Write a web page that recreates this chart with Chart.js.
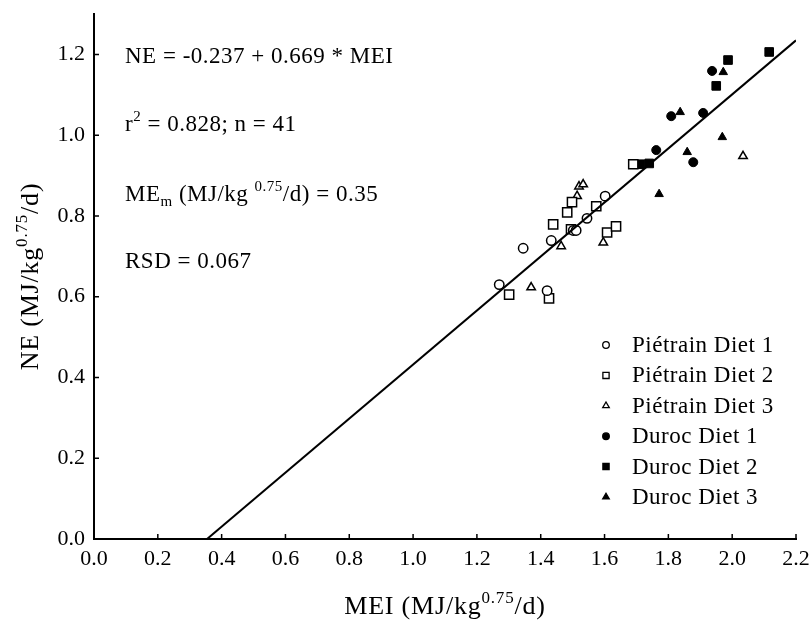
<!DOCTYPE html>
<html>
<head>
<meta charset="utf-8">
<script src="https://cdn.jsdelivr.net/npm/chart.js@4.4.1/dist/chart.umd.min.js"></script>
<style>
  html, body { margin: 0; padding: 0; background: #fff; }
  #wrap { width: 810px; height: 624px; }
</style>
</head>
<body>
<div id="wrap"><canvas id="chart" width="810" height="624"></canvas></div>
<script>
// values (MEI on x, NE on y, both MJ/kg^0.75/d)
const seriesNames = ['Piétrain Diet 1', 'Piétrain Diet 2', 'Piétrain Diet 3', 'Duroc Diet 1', 'Duroc Diet 2', 'Duroc Diet 3'];

const pie1X = [1.270, 1.420, 1.345, 1.433, 1.502, 1.511, 1.545, 1.602];
const pie1Y = [0.630, 0.615, 0.720, 0.739, 0.764, 0.764, 0.794, 0.849];

const pie2X = [1.301, 1.426, 1.439, 1.483, 1.498, 1.495, 1.574, 1.608, 1.636, 1.690];
const pie2Y = [0.605, 0.596, 0.779, 0.809, 0.834, 0.767, 0.824, 0.759, 0.774, 0.928];

const pie3X = [1.370, 1.464, 1.514, 1.520, 1.533, 1.596, 2.034];
const pie3Y = [0.623, 0.725, 0.849, 0.873, 0.878, 0.734, 0.948];

const dur1X = [1.762, 1.809, 1.878, 1.909, 1.937];
const dur1Y = [0.963, 1.047, 0.933, 1.055, 1.159];

const dur2X = [1.712, 1.740, 1.950, 1.987, 2.116];
const dur2Y = [0.928, 0.930, 1.122, 1.186, 1.206];

const dur3X = [1.771, 1.837, 1.859, 1.972, 1.969];
const dur3Y = [0.854, 1.057, 0.958, 1.156, 0.995];

// regression printed on the figure
const fitIntercept = -0.237;
const fitSlope = 0.669;

const xTicks = [0, 0.2, 0.4, 0.6, 0.8, 1.0, 1.2, 1.4, 1.6, 1.8, 2.0, 2.2];
const yTicks = [0, 0.2, 0.4, 0.6, 0.8, 1.0, 1.2];
const xMin = 0, xMax = 2.2, yMin = 0, yMax = 1.3;

const serif = '"Liberation Serif", "Times New Roman", serif';

function pairs(xs, ys) {
  return xs.map((x, i) => ({ x: x, y: ys[i] }));
}

// marker look per series: [pointStyle, filled, radius on plot, radius in legend]
const markers = [
  ['circle', false, 4.7, 3.3],
  ['rect', false, 6.5, 4.4],
  ['triangle', false, 4.9, 3.8],
  ['circle', true, 4.5, 3.3],
  ['rect', true, 6.1, 4.4],
  ['triangle', true, 4.9, 3.8]
];

const allX = [pie1X, pie2X, pie3X, dur1X, dur2X, dur3X];
const allY = [pie1Y, pie2Y, pie3Y, dur1Y, dur2Y, dur3Y];

let datasets = seriesNames.map((name, i) => ({
  label: name,
  data: pairs(allX[i], allY[i]),
  pointStyle: markers[i][0],
  pointRadius: markers[i][2],
  pointBackgroundColor: markers[i][1] ? '#000' : '#fff',
  pointBorderColor: '#000',
  pointBorderWidth: markers[i][1] ? 1 : 1.5,
  showLine: false
}));

// fitted line from where it crosses NE = 0 up to the end of the x axis
const fitStart = -fitIntercept / fitSlope;
datasets.unshift({
  label: 'fit',
  data: [
    { x: fitStart, y: fitIntercept + fitSlope * fitStart },
    { x: xMax, y: fitIntercept + fitSlope * xMax }
  ],
  showLine: true,
  borderColor: '#000',
  borderWidth: 2,
  pointRadius: 0
});

// draw text pieces with super/subscripts
function drawParts(ctx, parts, x, y, size, align) {
  const small = Math.round(size * 0.66);
  let total = 0;
  parts.forEach(p => {
    ctx.font = (p[1] ? small : size) + 'px ' + serif;
    total += ctx.measureText(p[0]).width;
  });
  let cx = align === 'center' ? x - total / 2 : x;
  parts.forEach(p => {
    ctx.font = (p[1] ? small : size) + 'px ' + serif;
    let dy = 0;
    if (p[1] === 'sup') dy = -size * 0.42;
    if (p[1] === 'sub') dy = size * 0.22;
    ctx.fillText(p[0], cx, y + dy);
    cx += ctx.measureText(p[0]).width;
  });
}

const extras = {
  id: 'extras',
  afterDraw(chart) {
    const ctx = chart.ctx;
    const xs = chart.scales.x, ys = chart.scales.y;
    const area = chart.chartArea;
    ctx.save();
    ctx.strokeStyle = '#000';
    ctx.lineWidth = 1.5;
    // inward tick marks
    ctx.beginPath();
    xTicks.forEach(v => {
      const px = xs.getPixelForValue(v);
      ctx.moveTo(px, area.bottom);
      ctx.lineTo(px, area.bottom - 5);
    });
    yTicks.forEach(v => {
      const py = ys.getPixelForValue(v);
      ctx.moveTo(area.left, py);
      ctx.lineTo(area.left + 5, py);
    });
    ctx.stroke();

    ctx.fillStyle = '#000';
    ctx.textAlign = 'left';
    ctx.textBaseline = 'alphabetic';
    ctx.letterSpacing = '0.5px';

    // statistics block
    const tx = 125;
    drawParts(ctx, [['NE = -0.237 + 0.669 * MEI']], tx, 63, 23);
    drawParts(ctx, [['r'], ['2', 'sup'], [' = 0.828; n = 41']], tx, 131, 23);
    drawParts(ctx, [['ME'], ['m', 'sub'], [' (MJ/kg '], ['0.75', 'sup'], ['/d) = 0.35']], tx, 201, 23);
    drawParts(ctx, [['RSD = 0.067']], tx, 268, 23);

    // axis titles
    ctx.letterSpacing = '0.8px';
    drawParts(ctx, [['MEI (MJ/kg'], ['0.75', 'sup'], ['/d)']], (area.left + area.right) / 2, 614, 26, 'center');
    ctx.save();
    ctx.translate(38, (area.top + area.bottom) / 2);
    ctx.rotate(-Math.PI / 2);
    drawParts(ctx, [['NE (MJ/kg'], ['0.75', 'sup'], ['/d)']], 0, 0, 26, 'center');
    ctx.restore();

    // legend
    ctx.letterSpacing = '0.5px';
    seriesNames.forEach((name, i) => {
      const ly = 345 + 30.4 * i;
      ctx.fillStyle = markers[i][1] ? '#000' : '#fff';
      ctx.strokeStyle = '#000';
      ctx.lineWidth = 1.3;
      Chart.helpers.drawPoint(ctx, {
        pointStyle: markers[i][0], radius: markers[i][3], rotation: 0, borderWidth: 1.3
      }, 606, ly);
      ctx.fillStyle = '#000';
      ctx.font = '23px ' + serif;
      ctx.textBaseline = 'middle';
      ctx.fillText(name, 632, ly + 1);
      ctx.textBaseline = 'alphabetic';
    });
    ctx.restore();
  }
};

new Chart(document.getElementById('chart'), {
  type: 'scatter',
  data: { datasets: datasets },
  options: {
    responsive: false,
    animation: false,
    layout: { padding: { top: 14, right: 14, left: 0, bottom: 0 } },
    plugins: { legend: { display: false }, tooltip: { enabled: false } },
    scales: {
      x: {
        type: 'linear',
        min: xMin,
        max: xMax,
        afterBuildTicks: s => { s.ticks = xTicks.map(v => ({ value: v })); },
        afterFit: s => { s.height = 85; s.paddingLeft = 0; s.paddingRight = 0; },
        grid: { drawOnChartArea: false, drawTicks: false },
        border: { display: true, color: '#000', width: 2 },
        ticks: {
          color: '#000',
          padding: 7,
          maxRotation: 0,
          autoSkip: false,
          font: { family: serif, size: 22 },
          callback: v => v.toFixed(1)
        }
      },
      y: {
        type: 'linear',
        min: yMin,
        max: yMax,
        afterBuildTicks: s => { s.ticks = yTicks.map(v => ({ value: v })); },
        afterFit: s => { s.width = 94; s.paddingTop = 0; s.paddingBottom = 0; },
        grid: { drawOnChartArea: false, drawTicks: false },
        border: { display: true, color: '#000', width: 2 },
        ticks: {
          color: '#000',
          padding: 9,
          font: { family: serif, size: 22 },
          callback: v => v.toFixed(1)
        }
      }
    }
  },
  plugins: [extras]
});
</script>
</body>
</html>
